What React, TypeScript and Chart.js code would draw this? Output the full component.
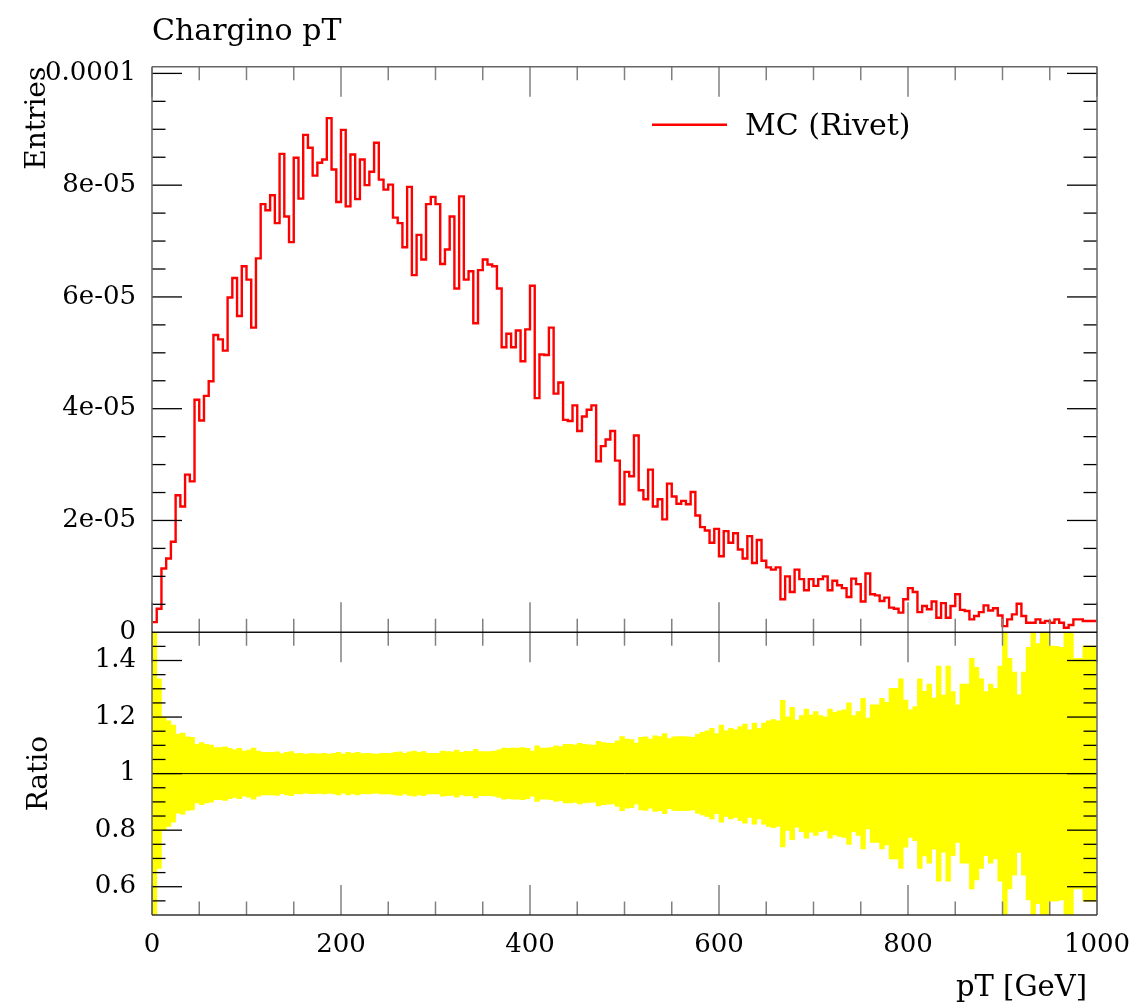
import React, { useEffect, useRef } from 'react';
import { Chart, registerables } from 'chart.js';

Chart.register(...registerables);

// ---------- texts ----------
const TITLE = 'Chargino pT';
const X_LABEL = 'pT [GeV]';
const Y_LABEL_TOP = 'Entries';
const Y_LABEL_RATIO = 'Ratio';
const LEGEND_LABEL = 'MC (Rivet)';

// ---------- binning ----------
const X_MIN = 0;
const X_MAX = 1000;
const BIN_WIDTH = 5; // GeV
const ENTRY_UNIT = 1e-5;

// bin contents (in units of 1e-5), 200 bins of 5 GeV
const entries = [
  0.18, 0.42, 1.14, 1.32, 1.62, 2.45, 2.25, 2.82, 2.70, 4.16,
  3.79, 4.23, 4.49, 5.32, 5.24, 5.04, 5.99, 6.34, 5.66, 6.55,
  6.31, 5.45, 6.69, 7.66, 7.55, 7.82, 7.32, 8.56, 7.44, 6.98,
  8.49, 7.76, 8.90, 8.67, 8.17, 8.40, 8.46, 9.20, 8.28, 7.70,
  8.99, 7.62, 8.55, 7.75, 8.46, 8.00, 8.24, 8.76, 8.10, 7.92,
  8.01, 7.42, 7.32, 6.89, 7.97, 6.39, 7.11, 6.67, 7.66, 7.79,
  7.66, 6.59, 6.85, 7.44, 6.15, 7.80, 6.31, 6.46, 5.53, 6.48,
  6.67, 6.58, 6.55, 6.15, 5.10, 5.34, 5.10, 5.40, 4.85, 5.42,
  6.20, 4.19, 4.97, 4.96, 5.45, 4.27, 4.47, 3.80, 3.78, 4.06,
  3.60, 3.86, 3.98, 4.06, 3.06, 3.33, 3.45, 3.60, 3.07, 2.29,
  2.87, 2.79, 3.52, 2.54, 2.38, 2.91, 2.25, 2.38, 2.02, 2.66,
  2.43, 2.30, 2.35, 2.29, 2.51, 2.09, 1.88, 1.82, 1.60, 1.85,
  1.36, 1.81, 1.60, 1.77, 1.48, 1.32, 1.72, 1.24, 1.65, 1.28,
  1.16, 1.12, 1.16, 0.59, 1.00, 0.72, 1.12, 0.95, 0.75, 0.95,
  0.83, 0.95, 1.00, 0.75, 0.92, 0.84, 0.79, 0.63, 0.96, 0.86,
  0.55, 1.05, 0.68, 0.66, 0.56, 0.62, 0.44, 0.42, 0.35, 0.59,
  0.79, 0.72, 0.36, 0.47, 0.41, 0.55, 0.26, 0.52, 0.26, 0.47,
  0.68, 0.40, 0.38, 0.23, 0.29, 0.36, 0.48, 0.39, 0.43, 0.30,
  0.11, 0.23, 0.32, 0.51, 0.29, 0.17, 0.17, 0.23, 0.17, 0.20,
  0.17, 0.23, 0.17, 0.08, 0.13, 0.23, 0.23, 0.20, 0.20, 0.20,
];

// relative uncertainty of each bin (ratio band = 1 ± err)
const ratioErr = [
  0.600, 0.335, 0.201, 0.187, 0.172, 0.140, 0.143, 0.130, 0.128, 0.104,
  0.110, 0.104, 0.101, 0.092, 0.092, 0.095, 0.089, 0.084, 0.089, 0.080,
  0.083, 0.090, 0.080, 0.075, 0.075, 0.075, 0.077, 0.071, 0.075, 0.078,
  0.071, 0.072, 0.069, 0.071, 0.071, 0.070, 0.072, 0.069, 0.072, 0.075,
  0.069, 0.075, 0.072, 0.075, 0.071, 0.072, 0.071, 0.069, 0.072, 0.072,
  0.072, 0.075, 0.077, 0.072, 0.077, 0.080, 0.075, 0.078, 0.072, 0.072,
  0.072, 0.080, 0.078, 0.077, 0.083, 0.075, 0.079, 0.078, 0.086, 0.078,
  0.078, 0.078, 0.080, 0.084, 0.090, 0.089, 0.090, 0.090, 0.092, 0.089,
  0.080, 0.098, 0.090, 0.090, 0.092, 0.098, 0.096, 0.104, 0.104, 0.102,
  0.107, 0.104, 0.102, 0.101, 0.114, 0.110, 0.108, 0.107, 0.116, 0.131,
  0.122, 0.120, 0.108, 0.128, 0.130, 0.122, 0.134, 0.131, 0.142, 0.124,
  0.130, 0.131, 0.131, 0.130, 0.128, 0.140, 0.146, 0.151, 0.160, 0.142,
  0.172, 0.151, 0.160, 0.155, 0.166, 0.175, 0.155, 0.179, 0.160, 0.179,
  0.187, 0.191, 0.187, 0.259, 0.201, 0.234, 0.189, 0.205, 0.228, 0.207,
  0.219, 0.205, 0.201, 0.228, 0.217, 0.222, 0.226, 0.250, 0.205, 0.219,
  0.266, 0.196, 0.243, 0.243, 0.266, 0.252, 0.302, 0.302, 0.335, 0.260,
  0.226, 0.237, 0.335, 0.291, 0.317, 0.267, 0.380, 0.278, 0.380, 0.290,
  0.243, 0.317, 0.317, 0.408, 0.376, 0.335, 0.290, 0.317, 0.302, 0.380,
  0.600, 0.408, 0.359, 0.279, 0.359, 0.447, 0.600, 0.460, 0.600, 0.600,
  0.451, 0.450, 0.447, 0.600, 0.600, 0.408, 0.408, 0.451, 0.451, 0.451,
];

// ---------- axes ----------
const xMajorTicks = [0, 200, 400, 600, 800, 1000];
const xTickLabels = ['0', '200', '400', '600', '800', '1000'];
const X_MINOR_STEP = 50;

const yTopTicks = [0, 2e-5, 4e-5, 6e-5, 8e-5, 1e-4];
const yTopTickLabels = ['0', '2e-05', '4e-05', '6e-05', '8e-05', '0.0001'];
const Y_TOP_MINOR_STEP = 5e-6;
const Y_TOP_HEADROOM = 1.1;

const yRatioTicks = [0.6, 0.8, 1, 1.2, 1.4];
const yRatioTickLabels = ['0.6', '0.8', '1', '1.2', '1.4'];
const Y_RATIO_MINOR_STEP = 0.05;
const RATIO_MIN = 0.5;
const RATIO_MAX = 1.5;

const FONT = '"DejaVu Serif", "Liberation Serif", serif';
const LINE_RED = '#ff0000';
const BAND_YELLOW = '#ffff00';

function near(a: number, b: number, tol: number) {
  return Math.abs(a - b) < tol;
}

const rivetDecor = {
  id: 'rivetDecor',
  afterDatasetsDraw(chart: any) {
    const { ctx, chartArea: ca, scales } = chart;
    const xs = scales.x;
    const ys = scales.y;
    const yr = scales.yr;
    const MAJ = 30;
    const MIN = 13.5;

    const seg = (x1: number, y1: number, x2: number, y2: number) => {
      ctx.beginPath();
      ctx.moveTo(x1, y1);
      ctx.lineTo(x2, y2);
      ctx.stroke();
    };

    ctx.save();

    // reference line at ratio = 1
    const y1 = yr.getPixelForValue(1);
    ctx.strokeStyle = '#000';
    ctx.lineWidth = 1;
    seg(ca.left, y1, ca.right, y1);

    // ---- x ticks (both panels, top and bottom edges) ----
    ctx.strokeStyle = '#808080';
    ctx.lineWidth = 1.5;
    const nX = Math.round((X_MAX - X_MIN) / X_MINOR_STEP);
    const rows = [
      { yy: ys.top, dir: 1 },
      { yy: ys.bottom, dir: -1 },
      { yy: yr.top, dir: 1 },
      { yy: yr.bottom, dir: -1 },
    ];
    for (let k = 0; k <= nX; k++) {
      const v = X_MIN + k * X_MINOR_STEP;
      const major = xMajorTicks.some((t) => near(t, v, 1e-6));
      const px = xs.getPixelForValue(v);
      const len = major ? MAJ : MIN;
      for (const r of rows) seg(px, r.yy, px, r.yy + r.dir * len);
    }

    // ---- top panel y ticks ----
    ctx.strokeStyle = '#000';
    ctx.lineWidth = 1.3;
    const nY = Math.floor(ys.max / Y_TOP_MINOR_STEP + 1e-9);
    for (let k = 1; k <= nY; k++) {
      const v = k * Y_TOP_MINOR_STEP;
      const major = yTopTicks.some((t) => near(t, v, 1e-9));
      const py = ys.getPixelForValue(v);
      const len = major ? MAJ : MIN;
      seg(ca.left, py, ca.left + len, py);
      seg(ca.right, py, ca.right - len, py);
    }

    // ---- ratio panel y ticks ----
    const nR = Math.round((RATIO_MAX - RATIO_MIN) / Y_RATIO_MINOR_STEP);
    for (let k = 1; k < nR; k++) {
      const v = RATIO_MIN + k * Y_RATIO_MINOR_STEP;
      const major = yRatioTicks.some((t) => near(t, v, 1e-6));
      const py = yr.getPixelForValue(v);
      const len = major ? MAJ : MIN;
      seg(ca.left, py, ca.left + len, py);
      seg(ca.right, py, ca.right - len, py);
    }

    // ---- frames ----
    ctx.strokeStyle = '#666';
    ctx.lineWidth = 1.5;
    seg(ca.left, ys.top, ca.right, ys.top);
    seg(ca.left, ys.top, ca.left, yr.bottom);
    seg(ca.right, ys.top, ca.right, yr.bottom);
    ctx.strokeStyle = '#111';
    seg(ca.left, ys.bottom, ca.right, ys.bottom);
    ctx.strokeStyle = '#333';
    seg(ca.left, yr.bottom, ca.right, yr.bottom);

    // ---- tick labels ----
    ctx.fillStyle = '#000';
    ctx.font = `26px ${FONT}`;
    ctx.textAlign = 'right';
    ctx.textBaseline = 'middle';
    yTopTicks.forEach((t, i) => {
      ctx.fillText(yTopTickLabels[i], ca.left - 16, ys.getPixelForValue(t));
    });
    yRatioTicks.forEach((t, i) => {
      ctx.fillText(yRatioTickLabels[i], ca.left - 16, yr.getPixelForValue(t));
    });
    ctx.textAlign = 'center';
    xMajorTicks.forEach((t, i) => {
      ctx.fillText(xTickLabels[i], xs.getPixelForValue(t), yr.bottom + 30);
    });

    // ---- axis titles ----
    ctx.font = `28px ${FONT}`;
    ctx.textBaseline = 'alphabetic';
    ctx.save();
    ctx.translate(ca.left - 107, ys.top);
    ctx.rotate(-Math.PI / 2);
    ctx.textAlign = 'right';
    ctx.fillText(Y_LABEL_TOP, 0, 0);
    ctx.restore();

    ctx.save();
    ctx.translate(ca.left - 105, (yr.top + yr.bottom) / 2);
    ctx.rotate(-Math.PI / 2);
    ctx.textAlign = 'center';
    ctx.fillText(Y_LABEL_RATIO, 0, 0);
    ctx.restore();

    ctx.font = `29px ${FONT}`;
    ctx.textAlign = 'right';
    ctx.fillText(X_LABEL, ca.right - 10, yr.bottom + 81);

    // ---- title ----
    ctx.font = `30px ${FONT}`;
    ctx.textAlign = 'left';
    ctx.fillText(TITLE, ca.left, 40);

    // ---- legend ----
    const lx = ca.left + 500;
    const ly = ys.top + 58;
    ctx.strokeStyle = LINE_RED;
    ctx.lineWidth = 2.4;
    seg(lx, ly, lx + 75, ly);
    ctx.fillStyle = '#000';
    ctx.font = `30px ${FONT}`;
    ctx.textAlign = 'left';
    ctx.fillText(LEGEND_LABEL, lx + 93, ly + 10);

    ctx.restore();
  },
};

export default function App() {
  const canvasRef = useRef<HTMLCanvasElement | null>(null);

  useEffect(() => {
    document.body.style.margin = '0';
    const canvas = canvasRef.current;
    if (!canvas) return;

    const lineData = entries.map((v, i) => ({ x: X_MIN + i * BIN_WIDTH, y: v * ENTRY_UNIT }));
    lineData.push({ x: X_MAX, y: entries[entries.length - 1] * ENTRY_UNIT });

    const barData = ratioErr.map((e, i) => ({
      x: X_MIN + (i + 0.5) * BIN_WIDTH,
      y: [Math.max(RATIO_MIN, 1 - e), Math.min(RATIO_MAX, 1 + e)],
    }));

    const yTopMax = Y_TOP_HEADROOM * Math.max(...entries) * ENTRY_UNIT;

    const chart = new Chart(canvas, {
      type: 'line',
      data: {
        datasets: [
          {
            type: 'bar',
            label: 'band',
            data: barData as any,
            xAxisID: 'x',
            yAxisID: 'yr',
            backgroundColor: BAND_YELLOW,
            borderWidth: 0,
            borderSkipped: false,
            barPercentage: 1,
            categoryPercentage: 1,
            grouped: false,
            order: 2,
          } as any,
          {
            type: 'line',
            label: LEGEND_LABEL,
            data: lineData,
            xAxisID: 'x',
            yAxisID: 'y',
            borderColor: LINE_RED,
            borderWidth: 2.4,
            pointRadius: 0,
            fill: false,
            stepped: true,
            tension: 0,
            borderJoinStyle: 'miter',
            order: 1,
          } as any,
        ],
      },
      options: {
        responsive: false,
        animation: false,
        events: [],
        layout: { padding: { left: 152, right: 38, top: 66.7, bottom: 87 } },
        plugins: {
          legend: { display: false },
          title: { display: false },
          tooltip: { enabled: false },
        },
        scales: {
          x: { type: 'linear', min: X_MIN, max: X_MAX, offset: false, display: false },
          y: {
            type: 'linear',
            position: 'left',
            stack: 'panels',
            stackWeight: 2,
            weight: 1,
            min: 0,
            max: yTopMax,
            display: false,
          },
          yr: {
            type: 'linear',
            position: 'left',
            stack: 'panels',
            stackWeight: 1,
            weight: 0,
            min: RATIO_MIN,
            max: RATIO_MAX,
            display: false,
          },
        } as any,
      },
      plugins: [rivetDecor],
    });

    return () => chart.destroy();
  }, []);

  return (
    <div style={{ position: 'absolute', left: 0, top: 0, width: 1135, height: 1002, background: '#fff' }}>
      <canvas ref={canvasRef} width={1135} height={1002} style={{ display: 'block' }} />
    </div>
  );
}
